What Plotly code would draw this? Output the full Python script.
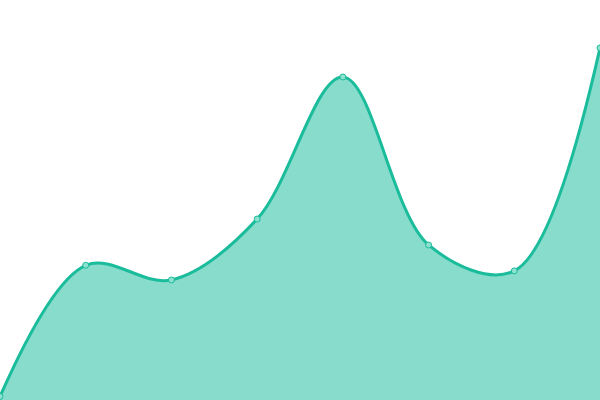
import plotly.graph_objects as go

# data (8 evenly spaced points, y axis from 0)
x_vals = [0, 1, 2, 3, 4, 5, 6, 7]
y_vals = [1, 38.5, 34.3, 51.7, 92.3, 44.3, 36.9, 100.6]
y_max = 114.3

line_color = '#1abc9c'

fig = go.Figure()

fig.add_trace(go.Scatter(
    x=x_vals, y=y_vals,
    mode='lines+markers',
    line=dict(color=line_color, width=3, shape='spline', smoothing=1),
    fill='tozeroy',
    fillcolor='rgba(26,188,156,0.52)',
    marker=dict(size=6, color='#8ee0cf', line=dict(color=line_color, width=1)),
    cliponaxis=False,
    hoverinfo='x+y'
))

fig.update_layout(
    width=600, height=400,
    margin=dict(l=0, r=0, t=0, b=0),
    paper_bgcolor='white',
    plot_bgcolor='white',
    showlegend=False,
    xaxis=dict(range=[0, 7], visible=False, fixedrange=True),
    yaxis=dict(range=[0, y_max], visible=False, fixedrange=True),
)

# drop the page's default body margin so the chart fills the window
fig.write_html(
    "out.html",
    config={'displayModeBar': False},
    post_script="document.body.style.margin='0';document.body.style.overflow='hidden';",
)
